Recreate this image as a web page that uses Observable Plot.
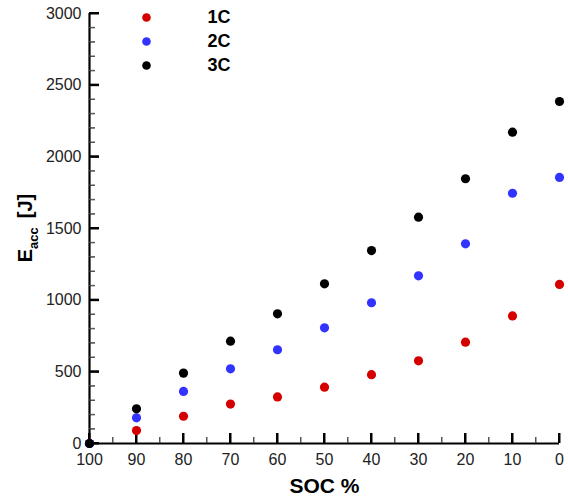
<!DOCTYPE html>
<html>
<head>
<meta charset="utf-8">
<script src="https://cdn.jsdelivr.net/npm/d3@7"></script>
<script src="https://cdn.jsdelivr.net/npm/@observablehq/plot@0.6"></script>
<style>
  html, body { margin: 0; padding: 0; background: white; }
</style>
</head>
<body>
<div id="chart"></div>
<script>
const soc = [100, 90, 80, 70, 60, 50, 40, 30, 20, 10, 0];
const e1C = [0, 90, 190, 275, 325, 393, 480, 577, 707, 890, 1110];
const e2C = [0, 179, 363, 521, 654, 807, 982, 1170, 1393, 1746, 1856];
const e3C = [0, 242, 491, 714, 905, 1114, 1346, 1579, 1847, 2172, 2386];
const seriesNames = ["1C", "2C", "3C"];
const seriesColors = ["#d40000", "#3333ff", "#000000"];
const xTicks = [100, 90, 80, 70, 60, 50, 40, 30, 20, 10, 0];
const xMinor = [95, 85, 75, 65, 55, 45, 35, 25, 15, 5];
const yTicks = [0, 500, 1000, 1500, 2000, 2500, 3000];
const yMinor = d3.range(0, 3001, 100).filter(v => v % 500 !== 0);

const values = [e1C, e2C, e3C];
const data = [];
seriesNames.forEach((s, i) => soc.forEach((x, j) => data.push({series: s, soc: x, e: values[i][j]})));

const font = "'Liberation Sans', Arial, Helvetica, sans-serif";
const fmt = d => String(d);

const W = 568, H = 499, ML = 89, MR = 9, MT = 13, MB = 56;
const FW = W - ML - MR, FH = H - MT - MB;

const legendMarks = seriesNames.flatMap((s, i) => [
  Plot.dot([s], {frameAnchor: "top-left", dx: 57, dy: 4 + i * 24, r: 4.3, fill: seriesColors[i]}),
  Plot.text([s], {frameAnchor: "top-left", dx: 118, dy: 4 + i * 24, text: d => d, textAnchor: "start", lineAnchor: "middle", fontSize: 18, fontWeight: "bold", fill: "#000"})
]);

const chart = Plot.plot({
  width: W,
  height: H,
  marginLeft: ML,
  marginRight: MR,
  marginTop: MT,
  marginBottom: MB,
  style: {fontFamily: font, background: "white", color: "#000"},
  x: {domain: [100, 0]},
  y: {domain: [0, 3000]},
  color: {domain: seriesNames, range: seriesColors},
  marks: [
    Plot.ruleY(yMinor, {y: d => d, insetRight: FW - 6, strokeWidth: 1, stroke: "#555"}),
    Plot.ruleY(yTicks, {y: d => d, insetRight: FW - 10, strokeWidth: 2, stroke: "#000"}),
    Plot.ruleX(xMinor, {x: d => d, insetTop: FH - 6, strokeWidth: 1, stroke: "#555"}),
    Plot.ruleX(xTicks, {x: d => d, insetTop: FH - 10, strokeWidth: 2, stroke: "#000"}),
    Plot.axisY(yTicks, {anchor: "left", tickSize: 0, tickPadding: 8, fontSize: 16, fill: "#222", tickFormat: fmt, label: null}),
    Plot.axisX(xTicks, {anchor: "bottom", tickSize: 0, tickPadding: 10, fontSize: 16, fill: "#222", tickFormat: fmt, label: null}),
    Plot.ruleX([100], {strokeWidth: 2.2}),
    Plot.ruleY([0], {strokeWidth: 2.2}),
    Plot.dot(data, {x: "soc", y: "e", fill: "series", r: 4.6}),
    Plot.text(["SOC %"], {frameAnchor: "bottom", dy: 43, text: d => d, fontSize: 21, fontWeight: "bold", lineAnchor: "middle", fill: "#000"}),
    ...legendMarks
  ]
});

document.getElementById("chart").appendChild(chart);

const svg = d3.select(chart);

// Inward ticks positioned through the chart's own scales
const xs = chart.scale("x"), ys = chart.scale("y");
const dotGroup = chart.querySelector("g[aria-label='dot']");
const tg = dotGroup ? svg.insert("g", () => dotGroup) : svg.append("g");
tg.attr("aria-label", "inward ticks");
tg.selectAll(null).data(yMinor).join("line")
  .attr("x1", ML).attr("x2", ML + 6)
  .attr("y1", d => ys.apply(d)).attr("y2", d => ys.apply(d))
  .attr("stroke", "#555").attr("stroke-width", 1);
tg.selectAll(null).data(yTicks).join("line")
  .attr("x1", ML).attr("x2", ML + 10)
  .attr("y1", d => ys.apply(d)).attr("y2", d => ys.apply(d))
  .attr("stroke", "#000").attr("stroke-width", 2);
tg.selectAll(null).data(xMinor).join("line")
  .attr("x1", d => xs.apply(d)).attr("x2", d => xs.apply(d))
  .attr("y1", MT + FH).attr("y2", MT + FH - 6)
  .attr("stroke", "#555").attr("stroke-width", 1);
tg.selectAll(null).data(xTicks).join("line")
  .attr("x1", d => xs.apply(d)).attr("x2", d => xs.apply(d))
  .attr("y1", MT + FH).attr("y2", MT + FH - 10)
  .attr("stroke", "#000").attr("stroke-width", 2);

// Y-axis title with subscript
const t = svg.append("text")
  .attr("transform", "translate(32,228) rotate(-90)")
  .attr("text-anchor", "middle")
  .attr("font-family", font)
  .attr("font-weight", "bold")
  .attr("font-size", 20)
  .attr("fill", "#000");
t.append("tspan").text("E");
t.append("tspan").attr("font-size", 13).attr("dy", 6).text("acc");
t.append("tspan").attr("dy", -6).attr("dx", 9).text("[J]");
</script>
</body>
</html>
